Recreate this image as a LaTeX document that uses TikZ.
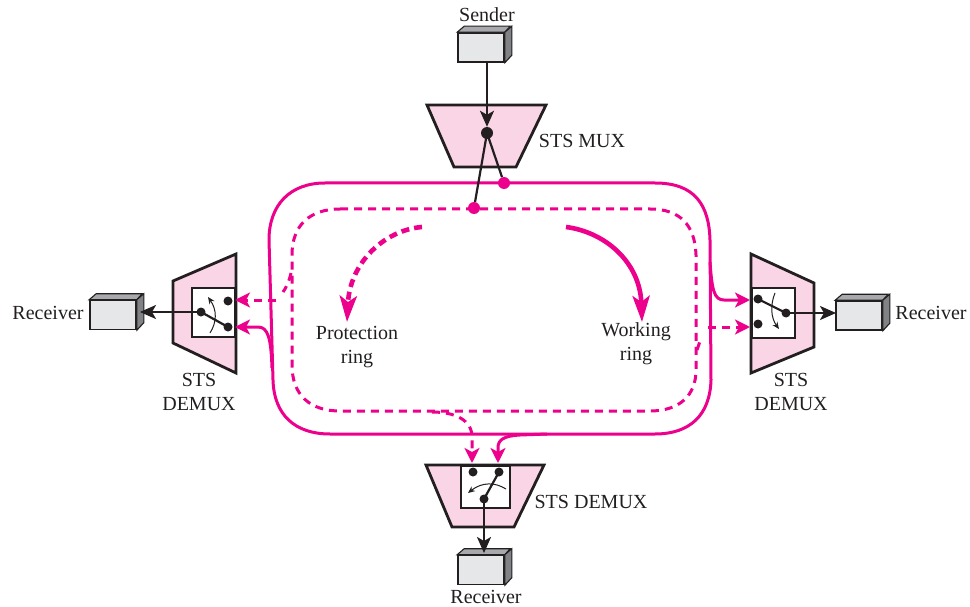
\documentclass[tikz,border=0pt]{standalone}
\usepackage{fontspec}
\setmainfont{Liberation Serif}
\usetikzlibrary{calc,arrows.meta,positioning}
\definecolor{ringpink}{HTML}{EC008C}
\definecolor{muxpink}{HTML}{F9D5E6}
\definecolor{boxface}{HTML}{E6E7E8}
\definecolor{boxtop}{HTML}{A7A9AC}
\definecolor{boxside}{HTML}{808285}
\definecolor{inkblack}{HTML}{231F20}
\tikzset{
  every node/.style={font=\fontsize{20}{23.5}\selectfont,text=inkblack,align=center},
  mux/.style={draw=inkblack,line width=2.8pt,fill=muxpink,line join=miter},
  switchbox/.style={draw=inkblack,line width=1.8pt,fill=white},
  hostfront/.style={draw=inkblack,line width=1.6pt,fill=boxface,inner sep=0pt,
    minimum width=46pt,minimum height=29pt},
  dot/.style={circle,fill=inkblack,inner sep=0pt,minimum size=9pt},
  bigdot/.style={circle,fill=inkblack,inner sep=0pt,minimum size=12pt},
  ringdot/.style={circle,fill=ringpink,inner sep=0pt,minimum size=12pt},
  blackline/.style={inkblack,line width=2.2pt},
  blackarrow/.style={blackline,-{Stealth[inset=4pt,length=16pt,width=14pt]}},
  swing/.style={inkblack,line width=1pt,-{Stealth[length=7pt,width=6pt]}},
  working/.style={ringpink,line width=3pt},
  protection/.style={ringpink,line width=3pt,dash pattern=on 8pt off 6pt},
  tap/.style={-{Stealth[inset=4pt,length=15pt,width=15pt]}},
  sweep/.style={line width=4.6pt,-{Stealth[inset=6pt,length=26pt,width=17pt]}}
}
% front of the box is the node, top and side are added behind it
\newcommand{\hostbox}[2]{
  \node[hostfront] (#1) at (#2) {};
  \fill[boxtop,draw=inkblack,line width=1.1pt] (#1.north west) -- ++(7,-6) -- ++(46,0) -- (#1.north east) -- cycle;
  \fill[boxside,draw=inkblack,line width=1.1pt] (#1.north east) -- ++(7,-6) -- ++(0,29) -- (#1.south east) -- cycle;
}
\begin{document}
\begin{tikzpicture}[x=1pt,y=-1pt]
  \useasboundingbox (0,0) rectangle (970,607);

  % rings
  \draw[working] (325,183) -- (655,183) .. controls (695,183) and (709,205) .. (710,240)
    -- (711,380) .. controls (710,415) and (690,434) .. (655,434)
    -- (330,434) .. controls (295,434) and (274,415) .. (273,380)
    -- (269,240) .. controls (269,205) and (290,183) .. (325,183) -- cycle;
  \draw[protection] (340,209) -- (650,209) .. controls (680,209) and (695,225) .. (696,255)
    -- (696,370) .. controls (696,395) and (680,411) .. (650,411)
    -- (340,411) .. controls (310,411) and (292,395) .. (292,365)
    -- (292,255) .. controls (292,225) and (310,209) .. (340,209) -- cycle;

  % multiplexers
  \draw[mux] (427,105) -- (546,105) -- (516,167) -- (454,167) -- cycle;
  \draw[mux] (426,465) -- (544,465) -- (514,527) -- (452,527) -- cycle;
  \draw[mux] (236,254) -- (236,373) -- (173,343) -- (173,281) -- cycle;
  \draw[mux] (751,254) -- (751,373) -- (814,347) -- (814,283) -- cycle;
  \draw[switchbox] (192,288) rectangle (235,337);
  \draw[switchbox] (752,288) rectangle (795,338);
  \draw[switchbox] (461,466) rectangle (510,508);

  % end stations
  \hostbox{sender}{481,47.5}
  \hostbox{recvleft}{113,315}
  \hostbox{recvright}{859,315.5}
  \hostbox{recvbottom}{481,570}

  \node at (487,15) {Sender};
  \node at (48,313) {Receiver};
  \node at (931,313) {Receiver};
  \node at (486,597) {Receiver};
  \node at (582,141) {STS MUX};
  \node at (591,502) {STS DEMUX};
  \node at (199,392) {STS\\DEMUX};
  \node at (791,392) {STS\\DEMUX};
  \node at (357,347) {Protection\\ring};
  \node at (636,343.5) {Working\\ring};

  % sender side
  \node[bigdot] (muxhub) at (487,133) {};
  \node[ringdot] (workdot) at (504,183) {};
  \node[ringdot] (protdot) at (474,208) {};
  \coordinate (senderout) at (487,62);
  \draw[blackarrow] (senderout) -- (muxhub);
  \draw[blackline] (muxhub.center) -- (workdot);
  \draw[blackline] (muxhub.center) -- (protdot);

  % left demux
  \node[dot] (lefthub) at (201,312) {};
  \node[dot] (leftprot) at (228,301) {};
  \node[dot] (leftwork) at (228,327) {};
  \coordinate (leftout) at (140,312);
  \draw[blackline] (lefthub.center) -- (leftwork.center);
  \draw[blackarrow] (lefthub.center) -- (leftout);
  \draw[swing] (210,333) .. controls (217,322) and (217,310) .. (208,297);

  % right demux
  \node[dot] (righthub) at (786,313) {};
  \node[dot] (rightwork) at (758,299) {};
  \node[dot] (rightprot) at (758,324) {};
  \coordinate (rightout) at (836,313);
  \draw[blackline] (righthub.center) -- (rightwork.center);
  \draw[blackarrow] (righthub.center) -- (rightout);
  \draw[swing] (775,293) .. controls (770,305) and (771,318) .. (779,329);

  % bottom demux
  \node[dot] (bottomhub) at (484,499) {};
  \node[dot] (bottomprot) at (473,472) {};
  \node[dot] (bottomwork) at (499,472) {};
  \coordinate (bottomout) at (484,553);
  \draw[blackline] (bottomhub.center) -- (bottomwork.center);
  \draw[blackarrow] (bottomhub.center) -- (bottomout);
  \draw[swing] (506,489) .. controls (495,482) and (482,482) .. (468,493);

  % taps off the rings
  \coordinate (lefttipw) at (235,327);
  \coordinate (lefttipp) at (235,300);
  \coordinate (righttipw) at (750,300);
  \coordinate (righttipp) at (750,327);
  \coordinate (bottomtipw) at (498,463);
  \coordinate (bottomtipp) at (472,463);
  \draw[working,tap] (272,368) .. controls (271,338) and (268,327) .. (258,327) -- (lefttipw);
  \draw[working,tap] (710,262) .. controls (712,290) and (714,300) .. (724,300) -- (righttipw);
  \draw[working,tap] (547,434) -- (520,435) .. controls (503,436) and (498,440) .. (498,448) -- (bottomtipw);
  \draw[protection] (291,273) .. controls (289,282) and (286,288) .. (283,292);
  \draw[protection,tap] (276,300) -- (lefttipp);
  \draw[protection,tap] (708,327) -- (righttipp);
  \draw[protection] (697,350) -- (701,338);
  \draw[protection,tap] (432,412) .. controls (455,412) and (472,420) .. (472,437) -- (bottomtipp);

  % direction of travel
  \draw[protection,sweep,dash pattern=on 8pt off 5pt] (422,227) .. controls (385,230) and (350,262) .. (347,322);
  \draw[working,sweep] (566,227) .. controls (605,232) and (640,262) .. (642,322);
\end{tikzpicture}
\end{document}
